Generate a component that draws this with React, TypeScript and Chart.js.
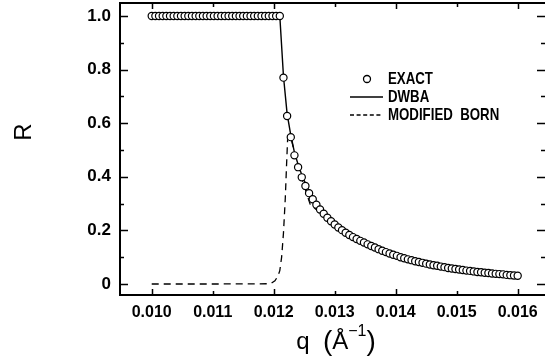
import React, { useEffect, useRef } from "react";
import { Chart, registerables } from "chart.js";
Chart.register(...registerables);

// q grid (Å^-1) for EXACT and DWBA
const Q = [
  0.01000, 0.01006, 0.01012, 0.01018, 0.01024, 0.01030, 0.01036, 0.01042, 0.01048, 0.01054,
  0.01060, 0.01066, 0.01072, 0.01078, 0.01084, 0.01090, 0.01096, 0.01102, 0.01108, 0.01114,
  0.01120, 0.01126, 0.01132, 0.01138, 0.01144, 0.01150, 0.01156, 0.01162, 0.01168, 0.01174,
  0.01180, 0.01186, 0.01192, 0.01198, 0.01204, 0.01210, 0.01216, 0.01222, 0.01228, 0.01234,
  0.01240, 0.01246, 0.01252, 0.01258, 0.01264, 0.01270, 0.01276, 0.01282, 0.01288, 0.01294,
  0.01300, 0.01306, 0.01312, 0.01318, 0.01324, 0.01330, 0.01336, 0.01342, 0.01348, 0.01354,
  0.01360, 0.01366, 0.01372, 0.01378, 0.01384, 0.01390, 0.01396, 0.01402, 0.01408, 0.01414,
  0.01420, 0.01426, 0.01432, 0.01438, 0.01444, 0.01450, 0.01456, 0.01462, 0.01468, 0.01474,
  0.01480, 0.01486, 0.01492, 0.01498, 0.01504, 0.01510, 0.01516, 0.01522, 0.01528, 0.01534,
  0.01540, 0.01546, 0.01552, 0.01558, 0.01564, 0.01570, 0.01576, 0.01582, 0.01588, 0.01594,
  0.01600,
];

const EXACT = [
  1, 1, 1, 1, 1, 1, 1, 1, 1, 1,
  1, 1, 1, 1, 1, 1, 1, 1, 1, 1,
  1, 1, 1, 1, 1, 1, 1, 1, 1, 1,
  1, 1, 1, 1, 1, 1, 0.770, 0.627, 0.548, 0.480,
  0.436, 0.398, 0.366, 0.339, 0.316, 0.296, 0.278, 0.262, 0.247, 0.234,
  0.222, 0.211, 0.201, 0.191, 0.183, 0.175, 0.168, 0.161, 0.155, 0.148,
  0.142, 0.136, 0.130, 0.124, 0.119, 0.114, 0.109, 0.105, 0.100, 0.096,
  0.092, 0.089, 0.085, 0.082, 0.079, 0.076, 0.073, 0.070, 0.068, 0.065,
  0.063, 0.060, 0.058, 0.056, 0.054, 0.052, 0.050, 0.049, 0.047, 0.045,
  0.044, 0.042, 0.041, 0.039, 0.038, 0.037, 0.036, 0.034, 0.033, 0.032,
  0.031,
];

const DWBA = [
  1, 1, 1, 1, 1, 1, 1, 1, 1, 1,
  1, 1, 1, 1, 1, 1, 1, 1, 1, 1,
  1, 1, 1, 1, 1, 1, 1, 1, 1, 1,
  1, 1, 1, 1, 1, 1, 0.775, 0.635, 0.556, 0.491,
  0.446, 0.408, 0.376, 0.348, 0.325, 0.304, 0.286, 0.269, 0.254, 0.241,
  0.228, 0.217, 0.206, 0.196, 0.188, 0.180, 0.172, 0.165, 0.158, 0.152,
  0.146, 0.140, 0.134, 0.128, 0.122, 0.117, 0.112, 0.108, 0.103, 0.099,
  0.095, 0.091, 0.087, 0.084, 0.081, 0.078, 0.075, 0.072, 0.069, 0.067,
  0.064, 0.062, 0.060, 0.057, 0.055, 0.053, 0.051, 0.050, 0.048, 0.046,
  0.045, 0.043, 0.042, 0.040, 0.039, 0.038, 0.036, 0.035, 0.034, 0.033,
  0.032,
];

const BORN_Q = [
  0.0100, 0.0110, 0.0116, 0.01190, 0.01196, 0.01202, 0.01207, 0.01210, 0.01213, 0.01216,
  0.01219, 0.01221, 0.01223, 0.01228, 0.01240, 0.01260, 0.01300, 0.01350, 0.01400, 0.01500,
  0.01600,
];
const BORN = [
  0, 0, 0.0005, 0.001, 0.003, 0.012, 0.03, 0.05, 0.10, 0.19,
  0.32, 0.44, 0.55, 0.548, 0.436, 0.296, 0.222, 0.162, 0.109, 0.054,
  0.031,
];

const X_TICKS = [0.010, 0.011, 0.012, 0.013, 0.014, 0.015, 0.016];
const Y_TICKS = [0, 0.2, 0.4, 0.6, 0.8, 1.0];
const Y_TICK_LABELS = ["0", "0.2", "0.4", "0.6", "0.8", "1.0"];
const Y_MINOR = [0.1, 0.3, 0.5, 0.7, 0.9];
const LEGEND_LABELS = ["EXACT", "DWBA", "MODIFIED  BORN"];

const X_MIN = 0.00948;
const X_MAX = 0.016448;
const Y_MIN = -0.041;
const Y_MAX = 1.0485;

const FONT = "'Liberation Sans', Arial, Helvetica, sans-serif";

export default function App() {
  const ref = useRef<HTMLCanvasElement>(null);
  useEffect(() => {
    document.body.style.margin = "0";
    const canvas = ref.current!;

    const decor = {
      id: "decor",
      afterDraw(chart: any) {
        const ctx = chart.ctx as CanvasRenderingContext2D;
        const { left, right, top, bottom } = chart.chartArea;
        const xs = chart.scales.x;
        const ys = chart.scales.y;
        ctx.save();
        ctx.strokeStyle = "#000";
        ctx.fillStyle = "#000";
        ctx.lineWidth = 2;
        ctx.beginPath();
        ctx.moveTo(left, top);
        ctx.lineTo(right + 2, top);
        ctx.moveTo(left, top - 1);
        ctx.lineTo(left, bottom + 1);
        ctx.moveTo(left, bottom);
        ctx.lineTo(right + 2, bottom);
        ctx.stroke();

        // inward ticks
        ctx.lineWidth = 1.5;
        ctx.beginPath();
        X_TICKS.forEach((v, i) => {
          const px = Math.round(xs.getPixelForValue(v)) + 0.5;
          const len = i % 2 === 0 ? 6 : 4;
          ctx.moveTo(px, bottom);
          ctx.lineTo(px, bottom - len);
          ctx.moveTo(px, top);
          ctx.lineTo(px, top + len);
        });
        const yTick = (v: number, len: number) => {
          const py = Math.round(ys.getPixelForValue(v)) + 0.5;
          ctx.moveTo(left, py);
          ctx.lineTo(left + len, py);
          ctx.moveTo(right, py);
          ctx.lineTo(right - len, py);
        };
        Y_TICKS.forEach((v) => yTick(v, 8));
        Y_MINOR.forEach((v) => yTick(v, 4));
        ctx.stroke();

        // y title
        ctx.save();
        ctx.translate(24, 132);
        ctx.rotate(-Math.PI / 2);
        ctx.font = `24px ${FONT}`;
        ctx.textAlign = "center";
        ctx.textBaseline = "middle";
        ctx.fillText("R", 0, 0);
        ctx.restore();

        // x title: q (Å^-1)
        ctx.textBaseline = "alphabetic";
        ctx.textAlign = "left";
        const base = 349;
        const main = `24px ${FONT}`;
        const paren = `28px ${FONT}`;
        const sup = `16px ${FONT}`;
        const parts: [string, string, number][] = [
          ["q", main, 0],
          ["  ", main, 0],
          ["(", paren, 1],
          ["Å", main, 0],
          ["−1", sup, -13],
          [")", paren, 1],
        ];
        let total = 0;
        parts.forEach(([t, f]) => {
          ctx.font = f;
          total += ctx.measureText(t).width;
        });
        let cx = 336 - total / 2;
        parts.forEach(([t, f, dy]) => {
          ctx.font = f;
          ctx.fillText(t, cx, base + dy);
          cx += ctx.measureText(t).width;
        });

        // legend
        const lx0 = 350;
        const lx1 = 383;
        const tx = 388;
        const rows = [79, 97, 115];
        ctx.lineWidth = 1.3;
        ctx.beginPath();
        ctx.arc(367, rows[0], 3.5, 0, Math.PI * 2);
        ctx.stroke();
        ctx.beginPath();
        ctx.moveTo(lx0, rows[1]);
        ctx.lineTo(lx1, rows[1]);
        ctx.stroke();
        ctx.setLineDash([4, 2.6]);
        ctx.beginPath();
        ctx.moveTo(lx0, rows[2]);
        ctx.lineTo(lx1, rows[2]);
        ctx.stroke();
        ctx.setLineDash([]);
        ctx.font = `bold 17px ${FONT}`;
        ctx.textBaseline = "middle";
        LEGEND_LABELS.forEach((lab, i) => {
          ctx.save();
          ctx.translate(tx, rows[i]);
          ctx.scale(0.78, 1);
          ctx.fillText(lab, 0, 0);
          ctx.restore();
        });
        ctx.restore();
      },
    };

    const chart = new Chart(canvas, {
      type: "line",
      data: {
        datasets: [
          {
            label: "EXACT",
            data: Q.map((q, i) => ({ x: q, y: EXACT[i] })),
            showLine: false,
            pointRadius: 3.6,
            pointBorderWidth: 1.2,
            pointBorderColor: "#000",
            pointBackgroundColor: "#fff",
            order: 0,
          },
          {
            label: "DWBA",
            data: Q.map((q, i) => ({ x: q, y: DWBA[i] })),
            borderColor: "#000",
            borderWidth: 1.4,
            pointRadius: 0,
            tension: 0,
            order: 1,
          },
          {
            label: "MODIFIED BORN",
            data: BORN_Q.map((q, i) => ({ x: q, y: BORN[i] })),
            borderColor: "#000",
            borderWidth: 1.3,
            borderDash: [7, 5],
            pointRadius: 0,
            tension: 0,
            order: 2,
          },
        ],
      },
      options: {
        animation: false,
        responsive: false,
        devicePixelRatio: 1,
        layout: { autoPadding: false, padding: { top: 3, right: 0, left: 0, bottom: 0 } },
        plugins: { legend: { display: false }, tooltip: { enabled: false } },
        scales: {
          x: {
            type: "linear",
            min: X_MIN,
            max: X_MAX,
            grid: { display: false, drawTicks: false },
            border: { display: false },
            afterBuildTicks: (s: any) => {
              s.ticks = X_TICKS.map((v) => ({ value: v }));
            },
            afterFit: (s: any) => {
              s.height = 63;
              s.paddingLeft = 0;
              s.paddingRight = 0;
              s.paddingTop = 0;
              s.paddingBottom = 0;
            },
            ticks: {
              color: "#000",
              padding: 8,
              maxRotation: 0,
              autoSkip: false,
              font: { family: FONT, size: 16, weight: "bold" },
              callback: (v: any) => Number(v).toFixed(3),
            },
          },
          y: {
            type: "linear",
            min: Y_MIN,
            max: Y_MAX,
            grid: { display: false, drawTicks: false },
            border: { display: false },
            afterBuildTicks: (s: any) => {
              s.ticks = Y_TICKS.map((v) => ({ value: v }));
            },
            afterFit: (s: any) => {
              s.width = 120;
              s.paddingLeft = 0;
              s.paddingRight = 0;
              s.paddingTop = 0;
              s.paddingBottom = 0;
            },
            ticks: {
              color: "#000",
              padding: 9,
              autoSkip: false,
              font: { family: FONT, size: 17, weight: "bold" },
              callback: (_v: any, i: number) => Y_TICK_LABELS[i],
            },
          },
        },
      },
      plugins: [decor],
    });
    return () => chart.destroy();
  }, []);

  return <canvas ref={ref} width={545} height={358} style={{ display: "block" }} />;
}
